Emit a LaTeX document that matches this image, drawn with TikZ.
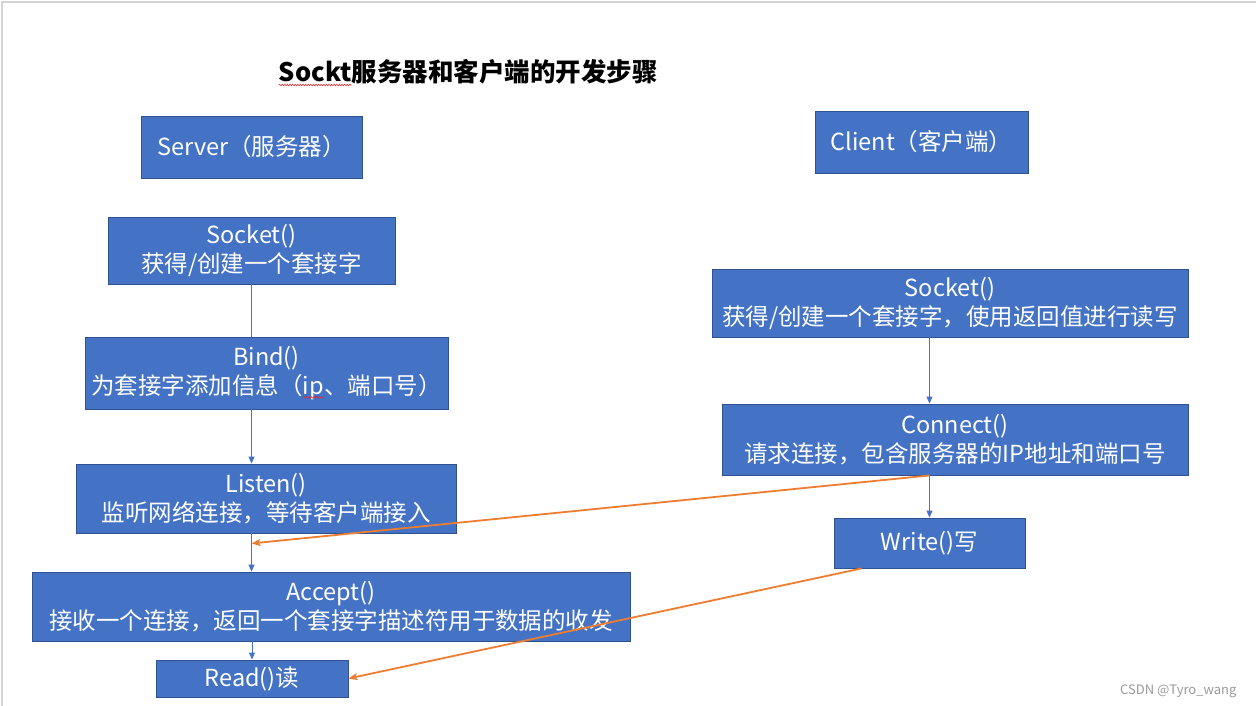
\documentclass[tikz,border=0pt]{standalone}
\usepackage{fontspec}
\setmainfont{Noto Sans CJK SC}
\usetikzlibrary{arrows.meta,calc,decorations.pathmorphing}
\definecolor{boxfill}{HTML}{4472C4}
\definecolor{boxline}{HTML}{2F528F}
\definecolor{flowc}{HTML}{4472C4}
\definecolor{crossc}{HTML}{ED7D31}
\definecolor{framec}{HTML}{D4D4D4}
\definecolor{markc}{HTML}{9A9A9A}
\definecolor{wavec}{HTML}{E03030}
\newcommand\wavy[2][black]{\tikz[baseline=(wv.base)]{\node[inner sep=0pt,outer sep=0pt,minimum width=0pt,minimum height=0pt,draw=none,fill=none,text=#1] (wv) {#2};\draw[wavec,line width=0.6pt,decorate,decoration={snake,amplitude=0.8pt,segment length=2.6pt}] ([yshift=-3pt]wv.base west) -- ([yshift=-3pt]wv.base east);}}
\tikzset{
  stepbox/.style={draw=boxline,line width=0.9pt,fill=boxfill,text=white,align=center,inner sep=0pt,
    font=\fontsize{23.5}{29}\selectfont},
  flowline/.style={draw=flowc,line width=0.9pt},
  flowarrow/.style={flowline,-{Triangle[length=7pt,width=6pt]}},
  crossarrow/.style={draw=crossc,line width=1.8pt,-{Stealth[length=9pt,width=7pt,inset=2pt]}},
}
\begin{document}
\begin{tikzpicture}[x=1pt,y=-1pt]
\useasboundingbox (0,0) rectangle (1256,706);
\fill[white] (0,0) rectangle (1256,706);
\draw[framec,line width=1.5pt] (2,706) -- (2,2) -- (1256,2);

\node[anchor=base west,font=\bfseries\fontsize{25.5}{30}\selectfont] (title) at (275,82) {\wavy{Sockt}服务器和客户端的开发步骤};

% server column
\node[stepbox,minimum width=221,minimum height=62] (server) at (251.5,147) {Server（服务器）};
\node[stepbox,minimum width=287,minimum height=67] (sockS) at (251.5,250.5) {Socket()\\获得/创建一个套接字};
\node[stepbox,minimum width=363,minimum height=72] (bind) at (266.5,373) {Bind()\\为套接字添加信息（\wavy[white]{ip}、端口号）};
\node[stepbox,minimum width=380,minimum height=69] (listen) at (266,498.5) {Listen()\\监听网络连接，等待客户端接入};
\node[stepbox,minimum width=598,minimum height=69] (accept) at (331,606.5) {Accept()\\接收一个连接，返回一个套接字描述符用于数据的收发};
\node[stepbox,minimum width=192,minimum height=37] (read) at (252,678.5) {Read()读};

% client column
\node[stepbox,minimum width=213,minimum height=62] (client) at (921.5,142) {Client（客户端）};
\node[stepbox,minimum width=476,minimum height=68] (sockC) at (950,303) {Socket()\\获得/创建一个套接字，使用返回值进行读写};
\node[stepbox,minimum width=466,minimum height=71] (connect) at (955,439.5) {Connect()\\请求连接，包含服务器的IP地址和端口号};
\node[stepbox,minimum width=191,minimum height=50] (write) at (929.5,543) {Write()写};

% server flow
\draw[flowline] (sockS.south) -- (sockS.south |- bind.north);
\draw[flowarrow] (bind.south -| sockS.south) -- (listen.north -| sockS.south);
\draw[flowarrow] (listen.south -| sockS.south) -- (accept.north -| sockS.south);
\draw[flowarrow] (accept.south -| read.north) -- (read.north);

% client flow
\draw[flowarrow] (sockC.south -| write.north) -- (connect.north -| write.north);
\draw[flowarrow] (connect.south -| write.north) -- (write.north);

% cross connections
\coordinate (hitL) at ($(listen.south -| sockS.south)+(0,10)$);
\coordinate (wout) at ($(write.south west)+(28,0)$);
\draw[crossarrow] (connect.south -| write.north) -- (hitL);
\draw[crossarrow] (wout) -- (read.east);

\node[anchor=base east,font=\fontsize{13}{15}\selectfont,text=markc] (wm) at (1240,694) {CSDN @Tyro\_wang};
\end{tikzpicture}
\end{document}
